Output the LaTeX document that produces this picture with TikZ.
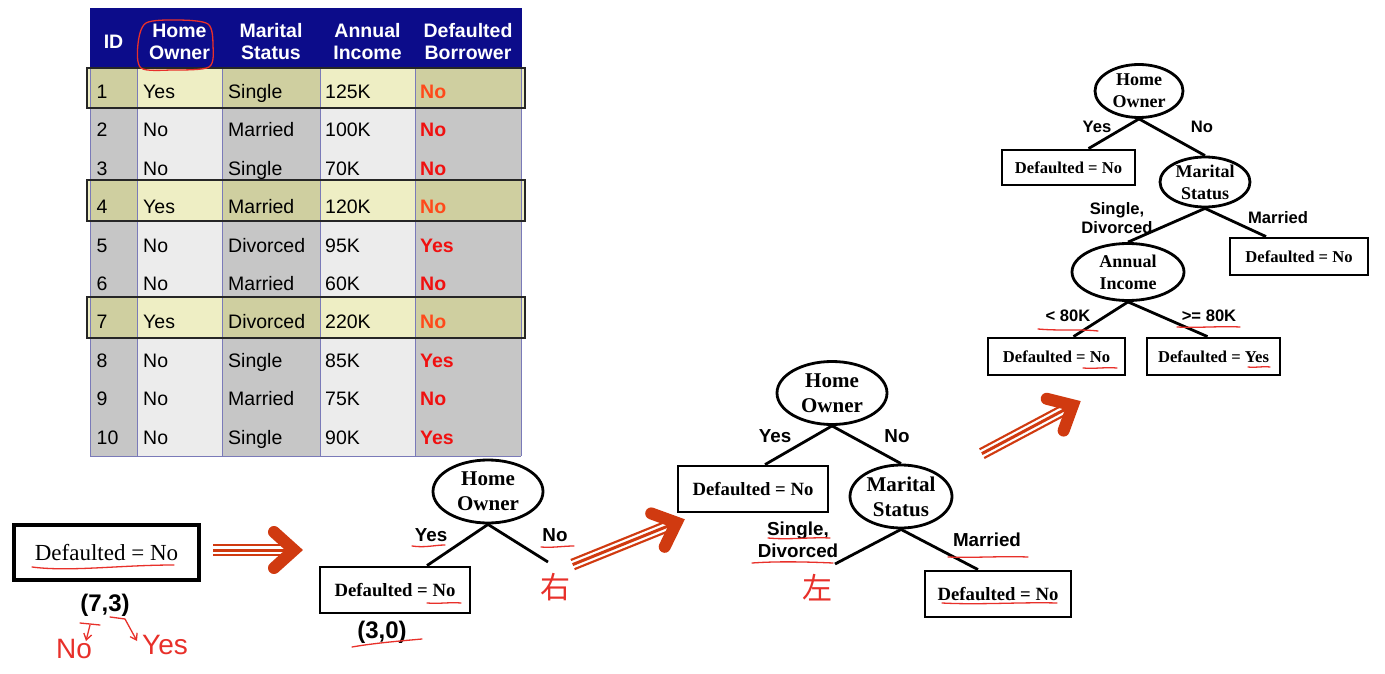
\documentclass[tikz,border=0pt]{standalone}
\usepackage{fontspec}
\setmainfont{Liberation Serif}
\setsansfont{Liberation Sans}
\newfontfamily\cjk{Noto Sans CJK SC}
\usetikzlibrary{shapes.geometric,arrows.meta}
\definecolor{navy}{HTML}{0C0C8A}
\definecolor{colA}{HTML}{C6C6C6}
\definecolor{colB}{HTML}{ECECEC}
\definecolor{hlA}{HTML}{CFCFA0}
\definecolor{hlB}{HTML}{EEEEC4}
\definecolor{sepc}{HTML}{7A7AB8}
\definecolor{tred}{HTML}{F01010}
\definecolor{hred}{HTML}{FF4A1A}
\definecolor{arrowred}{HTML}{D03A10}
\definecolor{penred}{HTML}{E8302A}
\begin{document}
\begin{tikzpicture}[x=1pt,y=-1pt,
 hdr/.style={align=center, text=white, font=\sffamily\bfseries\fontsize{19.5}{22}\selectfont, inner sep=0},
 cell/.style={anchor=base west, font=\sffamily\fontsize{19.5}{22}\selectfont, inner sep=0},
 dcell/.style={cell, font=\sffamily\bfseries\fontsize{19.5}{22}\selectfont},
 leaf/.style={draw, line width=2.8, rectangle, inner sep=0, font=\rmfamily\bfseries\fontsize{18.7}{22}\selectfont},
 leafs/.style={leaf, font=\rmfamily\bfseries\fontsize{16.6}{20}\selectfont},
 dec/.style={draw, line width=2.8, ellipse, inner sep=0, align=center, font=\rmfamily\bfseries\fontsize{21}{25}\selectfont},
 decs/.style={dec, inner ysep=-4, font=\rmfamily\bfseries\fontsize{18}{22}\selectfont},
 edge/.style={draw, line width=2.8},
 lbl/.style={inner sep=0, align=center, font=\sffamily\bfseries\fontsize{18.8}{22}\selectfont},
 lbls/.style={lbl, font=\sffamily\bfseries\fontsize{16.6}{19}\selectfont},
 pen/.style={draw=penred, line width=1.3, line cap=round, line join=round},
 pentext/.style={text=penred, inner sep=0, font=\sffamily\fontsize{28}{30}\selectfont},
 cjkpen/.style={text=penred, inner sep=0, font=\cjk\fontsize{30}{30}\selectfont},
 pics/fatarrow/.style={code={
   \draw[arrowred, line width=12] (-#1,0) -- (-10,0);
   \draw[white, line width=7.5] (-#1-1,0) -- (-10,0);
   \draw[arrowred, line width=3] (-#1,0) -- (-10,0);
   \draw[arrowred, line width=12, line cap=round, line join=miter] (-27,18) -- (-7,0) -- (-27,-18);
 }}
]
\useasboundingbox (0,0) rectangle (1385,674);
\fill[white] (0,0) rectangle (1385,674);

% ---------------- table ----------------
\fill[navy] (90,8) rectangle (522,68);
\fill[colA] (90,68) rectangle (137,456);
\fill[colB] (137,68) rectangle (222,456);
\fill[colA] (222,68) rectangle (320,456);
\fill[colB] (320,68) rectangle (415,456);
\fill[colA] (415,68) rectangle (521,456);
\foreach \ya/\yb in {68/108, 180/221, 297/338}{
  \fill[hlB] (87,\ya) rectangle (525,\yb);
  \fill[hlA] (90,\ya) rectangle (137,\yb);
  \fill[hlA] (222,\ya) rectangle (320,\yb);
  \fill[hlA] (415,\ya) rectangle (521,\yb);
}
\foreach \xx in {90,137,222,320,415,521}{
  \draw[sepc, line width=1] (\xx,68) -- (\xx,456);
}
\draw[sepc, line width=1] (90,456) -- (521,456);
\foreach \ya/\yb in {68/108, 180/221, 297/338}{
  \draw[black!85, line width=1.5] (87,\ya) rectangle (525,\yb);
}
\node[hdr] (hid) at (113.5,41.5) {ID};
\node[hdr] (hho) at (179.5,41.5) {Home\\Owner};
\node[hdr] (hms) at (271,41.5) {Marital\\Status};
\node[hdr] (hai) at (367.5,41.5) {Annual\\Income};
\node[hdr] (hdb) at (468,41.5) {Defaulted\\Borrower};
\draw[pen] plot[smooth cycle] coordinates {(146,23) (178,20) (208,24) (213,45) (209,67) (172,70) (141,68) (138,44)};

\foreach \r/\ho/\ms/\ai/\db/\dc in {1/Yes/Single/125K/No/hred, 2/No/Married/100K/No/tred, 3/No/Single/70K/No/tred, 4/Yes/Married/120K/No/hred, 5/No/Divorced/95K/Yes/tred, 6/No/Married/60K/No/tred, 7/Yes/Divorced/220K/No/hred, 8/No/Single/85K/Yes/tred, 9/No/Married/75K/No/tred, 10/No/Single/90K/Yes/tred}{
  \pgfmathsetmacro\yy{98.5+38.4*(\r-1)}
  \node[cell] (id\r) at (96.5,\yy) {\r};
  \node[cell] (ho\r) at (143,\yy) {\ho};
  \node[cell] (ms\r) at (228,\yy) {\ms};
  \node[cell] (ai\r) at (325,\yy) {\ai};
  \node[dcell, text=\dc] (db\r) at (420,\yy) {\db};
}

% ---------------- tree 1 ----------------
\node[draw, line width=3.5, minimum width=185, minimum height=55, inner sep=0,
      font=\rmfamily\fontsize{23}{26}\selectfont] (s1) at (106.5,552.5) {Defaulted = No};
\node[lbl, font=\sffamily\bfseries\fontsize{24}{26}\selectfont] (c1) at (105,605) {(7,3)};
\draw[pen] (32,567) .. controls (70,572) and (120,565) .. (174,565);
\draw[pen] (80,623) -- (100,625);
\draw[pen, -{Straight Barb[length=6,width=8]}] (90,625) -- (86,641);
\draw[pen, -{Straight Barb[length=6,width=8]}] (110,617) -- (125,619) -- (137,641);
\node[pentext] (hn1) at (74,649) {No};
\node[pentext] (hy1) at (165,645) {Yes};

\pic[rotate=0] (ar1) at (301,550) {fatarrow=88};

% ---------------- tree 2 ----------------
\node[dec, minimum width=110, minimum height=63] (h2) at (488,491.5) {Home\\Owner};
\node[leaf, minimum width=150, minimum height=46] (l2) at (395,590) {Defaulted = No};
\coordinate (r2) at (548,562);
\draw[edge] (h2.south) -- ([xshift=32]l2.north);
\draw[edge] (h2.south) -- (r2);
\node[lbl] (y2) at (431,535) {Yes};
\node[lbl] (n2) at (555,535) {No};
\node[lbl, font=\sffamily\bfseries\fontsize{24}{26}\selectfont] (c2) at (382,632) {(3,0)};
\draw[pen] (412,546) .. controls (425,548) and (435,545) .. (445,545);
\draw[pen] (541,547) .. controls (552,548) and (563,546) .. (574,546);
\draw[pen] (427,603) .. controls (440,604) and (450,602) .. (461,603);
\draw[pen] (352,647) .. controls (375,643) and (400,641) .. (422,639);
\node[cjkpen] (you) at (555,587) {右};

\pic[rotate=22] (ar2) at (683,520) {fatarrow=119};

% ---------------- tree 3 ----------------
\node[dec, minimum width=110, minimum height=63] (h3) at (832,393) {Home\\Owner};
\node[leaf, minimum width=150, minimum height=46] (l3) at (753,489) {Defaulted = No};
\node[dec, minimum width=102, minimum height=63] (m3) at (901,496.5) {Marital\\Status};
\node[leaf, minimum width=146, minimum height=46] (r3) at (998,594) {Defaulted = No};
\coordinate (f3) at (835,564);
\draw[edge] (h3.south) -- ([xshift=12]l3.north);
\draw[edge] (h3.south) -- (m3.north);
\draw[edge] (m3.south) -- (f3);
\draw[edge] (m3.south) -- ([xshift=-20]r3.north);
\node[lbl] (y3) at (775,436) {Yes};
\node[lbl] (n3) at (897,436) {No};
\node[lbl] (s3) at (798,540) {Single,\\Divorced};
\node[lbl] (mr3) at (987,540) {Married};
\draw[pen] (768,538) .. controls (790,540) and (810,537) .. (830,538);
\draw[pen] (752,563) .. controls (780,561) and (810,562) .. (833,563);
\draw[pen] (948,557) .. controls (975,558) and (1000,556) .. (1028,557);
\draw[pen] (942,603) .. controls (980,605) and (1020,602) .. (1057,603);
\node[cjkpen] (zuo) at (817,588) {左};

\pic[rotate=28] (ar3) at (1079,402) {fatarrow=110};

% ---------------- tree 4 ----------------
\node[decs, minimum width=88, minimum height=53] (h4) at (1139,91) {Home\\Owner};
\node[leafs, minimum width=133, minimum height=35] (l4) at (1068.5,167.5) {Defaulted = No};
\node[decs, minimum width=90, minimum height=50] (m4) at (1205,182) {Marital\\Status};
\node[leafs, minimum width=138, minimum height=37] (r4) at (1299,256.5) {Defaulted = No};
\node[decs, minimum width=112, minimum height=57] (a4) at (1128,272) {Annual\\Income};
\node[leafs, minimum width=137, minimum height=37] (ll4) at (1056.5,356.5) {Defaulted = No};
\node[leafs, minimum width=133, minimum height=37] (lr4) at (1213.5,356.5) {Defaulted = Yes};
\draw[edge] (h4.south) -- ([xshift=20]l4.north);
\draw[edge] (h4.south) -- (m4.north);
\draw[edge] (m4.south) -- (a4.north);
\draw[edge] (m4.south) -- ([xshift=-33]r4.north);
\draw[edge] (a4.south) -- ([xshift=17]ll4.north);
\draw[edge] (a4.south) -- ([xshift=-6]lr4.north);
\node[lbls] (y4) at (1097,127) {Yes};
\node[lbls] (n4) at (1202,127) {No};
\node[lbls] (s4) at (1117,218) {Single,\\Divorced};
\node[lbls] (mr4) at (1278,218) {Married};
\node[lbls] (lt4) at (1068,316) {< 80K};
\node[lbls] (ge4) at (1209,316) {>= 80K};
\draw[pen] (1038,329) .. controls (1060,331) and (1080,329) .. (1098,331);
\draw[pen] (1177,327) .. controls (1200,328) and (1220,326) .. (1240,327);
\draw[pen] (1083,368) .. controls (1095,369) and (1105,367) .. (1117,368);
\draw[pen] (1248,367) .. controls (1256,368) and (1262,366) .. (1270,367);
\end{tikzpicture}
\end{document}
